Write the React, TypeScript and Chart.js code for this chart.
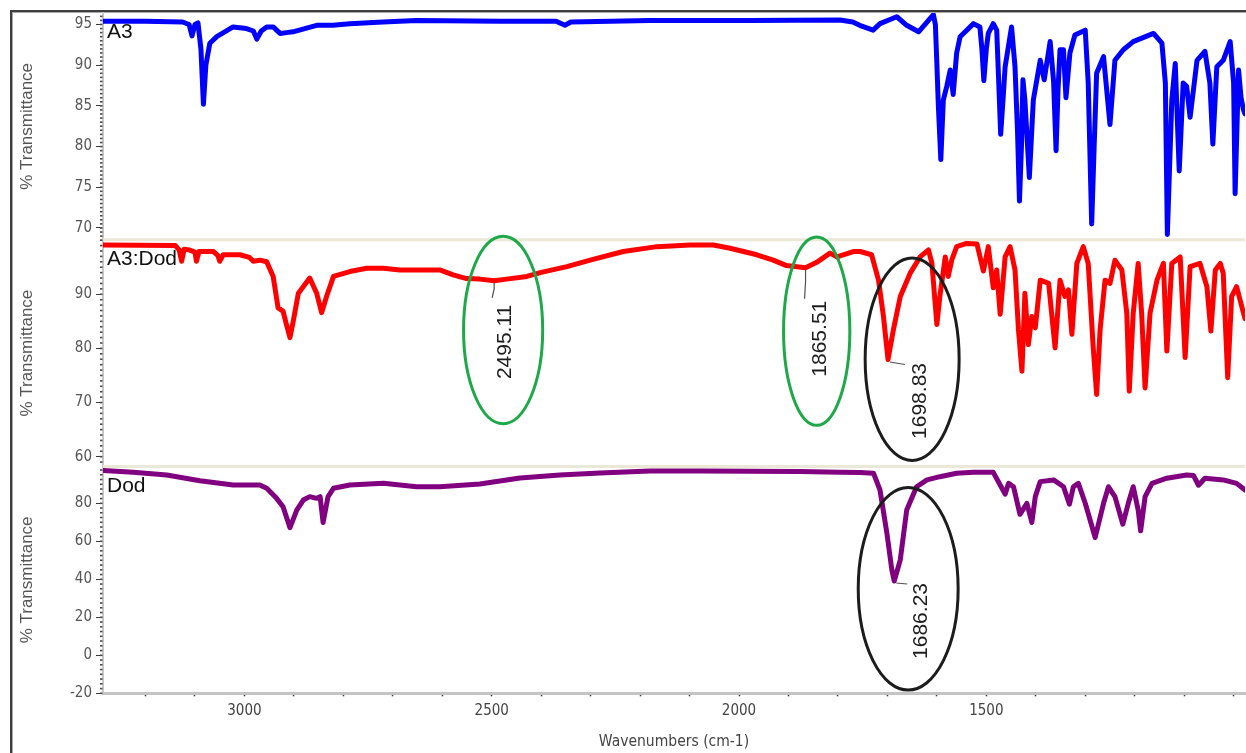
import React, { useEffect, useRef } from 'react';
import { Chart, registerables } from 'chart.js';

Chart.register(...registerables);

// ---- Spectra (wavenumber in cm-1, % transmittance) ----
const A3_WAVENUMBER = [
  3286, 3200, 3125, 3112, 3106, 3100, 3094, 3088, 3083, 3078,
  3070, 3056, 3023, 2996, 2982, 2975, 2966, 2955, 2942, 2928,
  2915, 2902, 2854, 2821, 2787, 2720, 2652, 2483, 2370, 2352,
  2340, 2180, 1978, 1796, 1770, 1756, 1729, 1715, 1681, 1661,
  1637, 1620, 1607, 1603, 1600, 1597, 1592, 1587, 1580, 1573,
  1567, 1560, 1553, 1526, 1513, 1509, 1505, 1500, 1496, 1486,
  1479, 1475, 1471, 1466, 1462, 1449, 1442, 1437, 1433, 1429,
  1426, 1422, 1413, 1405, 1391, 1383, 1371, 1364, 1359, 1355,
  1351, 1344, 1339, 1331, 1321, 1300, 1294, 1287, 1282, 1277,
  1263, 1250, 1240, 1223, 1203, 1162, 1145, 1138, 1134, 1125,
  1118, 1110, 1102, 1095, 1088, 1074, 1058, 1048, 1042, 1034,
  1021, 1007, 1000, 997, 990, 985, 980, 977,
];
const A3_TRANSMITTANCE = [
  95.4, 95.4, 95.3, 95.0, 93.6, 95.0, 95.2, 92.0, 85.2, 90.0,
  92.7, 93.5, 94.7, 94.5, 94.2, 93.2, 94.2, 94.7, 94.7, 93.9,
  94.0, 94.1, 94.9, 94.9, 95.1, 95.3, 95.5, 95.4, 95.4, 94.9,
  95.3, 95.5, 95.5, 95.55, 95.3, 94.9, 94.3, 95.1, 95.95, 94.9,
  94.1, 95.3, 96.2, 95.0, 90.2, 85.0, 78.4, 85.7, 87.4, 89.4,
  86.4, 91.5, 93.5, 95.1, 94.7, 92.0, 88.1, 92.0, 93.9, 95.1,
  94.3, 88.0, 81.5, 86.0, 89.8, 94.7, 89.8, 82.0, 73.3, 80.0,
  88.2, 85.7, 76.2, 85.7, 90.6, 88.2, 92.9, 88.0, 79.5, 87.0,
  91.9, 91.9, 86.0, 91.5, 93.7, 94.3, 87.8, 70.5, 80.0, 89.0,
  91.05, 82.7, 90.6, 91.9, 92.9, 93.9, 92.7, 87.8, 69.2, 85.7,
  90.2, 77.0, 87.8, 87.4, 83.6, 90.6, 91.7, 87.8, 80.3, 89.8,
  90.6, 92.9, 87.8, 74.2, 89.4, 86.0, 84.5, 84.0,
];

const MIX_WAVENUMBER = [
  3286, 3140, 3132, 3127, 3122, 3112, 3100, 3097, 3092, 3063,
  3054, 3050, 3043, 3009, 2990, 2982, 2969, 2955, 2942, 2932,
  2922, 2915, 2908, 2901, 2891, 2868, 2854, 2844, 2834, 2820,
  2787, 2753, 2719, 2686, 2652, 2605, 2578, 2551, 2524, 2495.11,
  2470, 2429, 2402, 2348, 2301, 2234, 2166, 2099, 2052, 2018,
  1964, 1931, 1904, 1883, 1865.51, 1843, 1816, 1802, 1769, 1755,
  1732, 1718, 1708, 1698.83, 1688, 1674, 1654, 1634, 1617, 1610,
  1600, 1594, 1583, 1577, 1570, 1560, 1540, 1519, 1506, 1496,
  1486, 1479, 1472, 1462, 1452, 1442, 1435, 1428, 1422, 1415,
  1408, 1401, 1391, 1374, 1368, 1361, 1351, 1341, 1334, 1327,
  1317, 1304, 1294, 1284, 1277, 1270, 1260, 1250, 1240, 1226,
  1216, 1211, 1203, 1193, 1186, 1179, 1169, 1155, 1142, 1135,
  1125, 1108, 1098, 1088, 1068, 1054, 1046, 1037, 1027, 1021,
  1012, 1004, 994, 980, 977,
];
const MIX_TRANSMITTANCE = [
  99.1, 99.0, 98.2, 96.1, 98.3, 98.2, 97.8, 96.1, 97.9, 97.9,
  97.2, 96.1, 97.3, 97.3, 96.8, 96.1, 96.3, 96.0, 93.3, 87.5,
  86.9, 84.4, 82.0, 85.2, 90.2, 93.0, 90.2, 86.6, 89.6, 93.3,
  94.2, 94.8, 94.8, 94.5, 94.5, 94.5, 93.6, 92.9, 92.8, 92.5,
  92.8, 93.3, 94.0, 95.1, 96.3, 97.9, 98.8, 99.1, 99.1, 98.5,
  97.3, 96.3, 95.3, 95.1, 94.9, 95.9, 97.6, 96.9, 97.9, 97.9,
  97.3, 92.6, 85.9, 77.95, 83.4, 89.6, 93.9, 96.9, 98.2, 95.7,
  84.4, 89.6, 96.9, 93.3, 96.3, 98.8, 99.4, 99.3, 94.3, 98.8,
  91.2, 94.5, 86.3, 96.9, 98.8, 94.5, 83.4, 75.8, 90.2, 80.7,
  85.9, 83.8, 92.6, 92.0, 86.5, 80.1, 92.6, 89.6, 90.8, 82.6,
  95.7, 98.8, 95.7, 80.3, 71.5, 83.4, 92.6, 92.0, 96.3, 94.5,
  86.5, 72.1, 86.5, 95.7, 86.5, 72.7, 86.5, 92.6, 95.7, 79.5,
  95.7, 96.9, 78.3, 95.1, 95.7, 91.4, 83.2, 94.5, 95.7, 93.9,
  74.6, 89.6, 91.4, 86.5, 85.5,
];

const DOD_WAVENUMBER = [
  3286, 3225, 3157, 3090, 3023, 2969, 2955, 2935, 2922, 2908,
  2894, 2881, 2868, 2854, 2847, 2841, 2831, 2820, 2787, 2719,
  2652, 2605, 2524, 2443, 2362, 2281, 2180, 2079, 1877, 1796,
  1755, 1728, 1715, 1701, 1691, 1686.23, 1674, 1661, 1641, 1620,
  1594, 1560, 1526, 1486, 1472, 1462, 1455, 1445, 1432, 1418,
  1408, 1401, 1391, 1364, 1344, 1332, 1324, 1314, 1300, 1280,
  1263, 1253, 1240, 1224, 1213, 1203, 1193, 1188, 1179, 1165,
  1135, 1095, 1081, 1071, 1058, 1021, 994, 977,
];
const DOD_TRANSMITTANCE = [
  97.3, 96.3, 94.9, 91.9, 89.6, 89.6, 87.9, 82.6, 78.2, 67.2,
  76.5, 81.7, 83.5, 82.6, 83.5, 69.9, 83.5, 87.9, 89.6, 90.5,
  88.7, 88.7, 90.2, 93.3, 94.9, 95.9, 97.0, 97.0, 96.8, 96.3,
  96.2, 95.8, 87.0, 64.2, 44.9, 39.1, 50.2, 76.5, 88.7, 92.3,
  94.0, 95.8, 96.3, 96.3, 89.6, 84.8, 90.5, 88.7, 74.2, 80.0,
  69.9, 83.5, 91.4, 92.3, 88.7, 79.5, 88.7, 90.5, 80.0, 62.0,
  80.0, 88.7, 83.5, 69.0, 80.0, 88.7, 76.5, 65.5, 83.5, 90.5,
  93.2, 94.9, 94.6, 89.5, 93.2, 92.3, 90.5, 87.0,
];

const SERIES_NAMES = ['A3', 'A3:Dod', 'Dod'];

// ---- Axis ticks ----
const X_TICK_LABELS = [3000, 2500, 2000, 1500];
const A3_TICKS = [70, 75, 80, 85, 90, 95];
const MIX_TICKS = [60, 70, 80, 90];
const DOD_TICKS = [-20, 0, 20, 40, 60, 80];

// ---- Marked peaks ----
const PEAK_WAVENUMBER = [2495.11, 1865.51, 1698.83, 1686.23];
const PEAK_SERIES = ['A3:Dod', 'A3:Dod', 'A3:Dod', 'Dod'];

const NARROW = "'Liberation Sans Narrow', 'Arial Narrow', 'DejaVu Sans Condensed', sans-serif";
const SANS = "'Liberation Sans', Arial, sans-serif";
const GREEN = '#1fa84a';
const DARK = '#1c1c1c';

// leader line path and label anchor, in px relative to the peak point
const PEAK_LAYOUT = [
  { path: [[0, 2], [0, 8], [-2, 17]], text: [11, 24] },
  { path: [[0, 2], [0, 14], [-1, 31]], text: [15, 33] },
  { path: [[2, 2.5], [17, 5]], text: [32, 3.5] },
  { path: [[2, 2], [13, 3]], text: [27, 2] },
];

// highlight rings around bands (centre and half-extent in data units)
const RINGS = [
  { axis: 'yMix', w: 2477, t: 83.4, dw: 80, dt: 17.3, color: GREEN },
  { axis: 'yMix', w: 1843, t: 83.2, dw: 67, dt: 17.4, color: GREEN },
  { axis: 'yMix', w: 1650, t: 78.0, dw: 95, dt: 18.7, color: DARK },
  { axis: 'yDod', w: 1658, t: 35.0, dw: 101, dt: 53.3, color: DARK },
];

const MINOR_STEP: Record<string, number> = { yA3: 0.5, yMix: 1, yDod: 2.5 };

function toPoints(xs: number[], ys: number[]) {
  return xs.map((x, i) => ({ x, y: ys[i] }));
}

function panelAxis(min: number, max: number, ticks: number[]) {
  return {
    type: 'linear',
    position: 'left',
    stack: 'ir',
    stackWeight: 1,
    min,
    max,
    afterBuildTicks: (s: any) => {
      s.ticks = ticks.map((v) => ({ value: v }));
    },
    afterFit: (s: any) => {
      s.width = 103;
    },
    grid: { drawOnChartArea: false, drawTicks: true, tickLength: 7, tickColor: '#3a3a3a', tickWidth: 1 },
    border: { display: true, color: '#c8c8c8', width: 2 },
    ticks: { color: '#555', font: { family: NARROW, size: 15 }, padding: 4, autoSkip: false },
    title: {
      display: true,
      text: '% Transmittance',
      color: '#555',
      font: { family: SANS, size: 17 },
      padding: { top: 17, bottom: 0 },
    },
  };
}

const decorPlugin = {
  id: 'irDecor',
  beforeDatasetsDraw(chart: any) {
    const { ctx, chartArea, scales } = chart;
    ctx.save();
    // separators between stacked panels
    ctx.strokeStyle = '#ebe8d8';
    ctx.lineWidth = 3;
    for (const id of ['yA3', 'yMix']) {
      const y = scales[id].bottom;
      ctx.beginPath();
      ctx.moveTo(chartArea.left, y);
      ctx.lineTo(chartArea.right, y);
      ctx.stroke();
    }
    // minor ticks along each y axis
    ctx.fillStyle = '#4a4a4a';
    for (const id of ['yA3', 'yMix', 'yDod']) {
      const s = scales[id];
      const step = MINOR_STEP[id];
      const start = Math.ceil(s.min / step) * step;
      for (let v = start; v <= s.max; v += step) {
        const y = s.getPixelForValue(v);
        ctx.fillRect(chartArea.left - 3, y - 0.8, 2.5, 1.6);
      }
    }
    ctx.restore();
  },
  afterDatasetsDraw(chart: any) {
    const { ctx, chartArea, scales } = chart;
    const xs = scales.x;
    ctx.save();

    // panel names
    ctx.fillStyle = '#111';
    ctx.font = `21px ${SANS}`;
    ctx.textAlign = 'left';
    ctx.textBaseline = 'middle';
    chart.data.datasets.forEach((ds: any) => {
      const s = scales[ds.yAxisID];
      ctx.fillText(ds.label, chartArea.left + 4, s.top + 19.5);
    });

    // rings
    ctx.lineWidth = 3;
    for (const r of RINGS) {
      const ys = scales[r.axis];
      const cx = xs.getPixelForValue(r.w);
      const cy = ys.getPixelForValue(r.t);
      const rx = Math.abs(xs.getPixelForValue(r.w + r.dw) - cx);
      const ry = Math.abs(ys.getPixelForValue(r.t + r.dt) - cy);
      ctx.strokeStyle = r.color;
      ctx.beginPath();
      ctx.ellipse(cx, cy, rx, ry, 0, 0, Math.PI * 2);
      ctx.stroke();
    }

    // peak labels
    PEAK_WAVENUMBER.forEach((w, i) => {
      const ds = chart.data.datasets.find((d: any) => d.label === PEAK_SERIES[i]);
      const pt = ds.data.find((p: any) => p.x === w);
      const ys = scales[ds.yAxisID];
      const px = xs.getPixelForValue(w);
      const py = ys.getPixelForValue(pt.y);
      const lay = PEAK_LAYOUT[i];
      ctx.strokeStyle = '#505050';
      ctx.lineWidth = 1.2;
      ctx.beginPath();
      lay.path.forEach(([dx, dy], k) => {
        if (k === 0) ctx.moveTo(px + dx, py + dy);
        else ctx.lineTo(px + dx, py + dy);
      });
      ctx.stroke();
      ctx.save();
      ctx.translate(px + lay.text[0], py + lay.text[1]);
      ctx.rotate(-Math.PI / 2);
      ctx.fillStyle = '#1e1e1e';
      ctx.font = `21px ${SANS}`;
      ctx.textAlign = 'right';
      ctx.textBaseline = 'middle';
      ctx.fillText(w.toFixed(2), 0, 0);
      ctx.restore();
    });
    ctx.restore();
  },
};

export default function App() {
  const canvasRef = useRef<HTMLCanvasElement>(null);

  useEffect(() => {
    const canvas = canvasRef.current;
    if (!canvas) return;

    const lineStyle = {
      borderWidth: 5,
      pointRadius: 0,
      tension: 0,
      borderJoinStyle: 'round',
      borderCapStyle: 'round',
      fill: false,
    };

    const chart = new Chart(canvas, {
      type: 'line',
      data: {
        datasets: [
          { ...lineStyle, label: SERIES_NAMES[0], yAxisID: 'yA3', borderColor: '#0000ff', data: toPoints(A3_WAVENUMBER, A3_TRANSMITTANCE) },
          { ...lineStyle, label: SERIES_NAMES[1], yAxisID: 'yMix', borderColor: '#ff0000', data: toPoints(MIX_WAVENUMBER, MIX_TRANSMITTANCE) },
          { ...lineStyle, label: SERIES_NAMES[2], yAxisID: 'yDod', borderColor: '#800080', data: toPoints(DOD_WAVENUMBER, DOD_TRANSMITTANCE) },
        ],
      } as any,
      options: {
        responsive: false,
        animation: false,
        devicePixelRatio: 1,
        events: [],
        layout: { padding: { top: 13, left: 0, right: 1, bottom: 0 } },
        plugins: { legend: { display: false }, tooltip: { enabled: false } },
        scales: {
          x: {
            type: 'linear',
            reverse: true,
            min: 977,
            max: 3286,
            afterBuildTicks: (s: any) => {
              const t = [];
              for (let v = 1000; v <= 3200; v += 100) t.push({ value: v });
              s.ticks = t;
            },
            afterFit: (s: any) => {
              s.height = 59.7;
            },
            grid: { drawOnChartArea: false, drawTicks: true, tickLength: 3, tickColor: '#333', tickWidth: 1.5 },
            border: { display: true, color: '#c4c4c4', width: 3 },
            ticks: {
              autoSkip: false,
              maxRotation: 0,
              padding: 6,
              color: '#444',
              font: { family: NARROW, size: 15 },
              callback: (v: any) => (X_TICK_LABELS.includes(Number(v)) ? String(v) : ''),
            },
            title: {
              display: true,
              text: 'Wavenumbers (cm-1)',
              color: '#444',
              font: { family: NARROW, size: 15.5 },
              padding: { top: 0, bottom: 2 },
            },
          },
          yDod: panelAxis(-20, 99.35, DOD_TICKS),
          yMix: panelAxis(58.18, 100.07, MIX_TICKS),
          yA3: panelAxis(68.55, 96.41, A3_TICKS),
        },
      } as any,
      plugins: [decorPlugin],
    });

    return () => chart.destroy();
  }, []);

  return (
    <div
      style={{
        position: 'fixed',
        left: 0,
        top: 0,
        width: 1246,
        height: 753,
        background: '#ffffff',
        overflow: 'hidden',
      }}
    >
      <div
        style={{
          position: 'absolute',
          left: 10,
          top: 10,
          right: 0,
          bottom: 0,
          borderTop: '2px solid #3e3e3e',
          borderLeft: '2px solid #3e3e3e',
          boxShadow: 'inset 1px 1px 0 #a8a8a8',
        }}
      />
      <canvas
        ref={canvasRef}
        width={1246}
        height={753}
        style={{ position: 'absolute', left: 0, top: 0, width: 1246, height: 753 }}
      />
    </div>
  );
}
